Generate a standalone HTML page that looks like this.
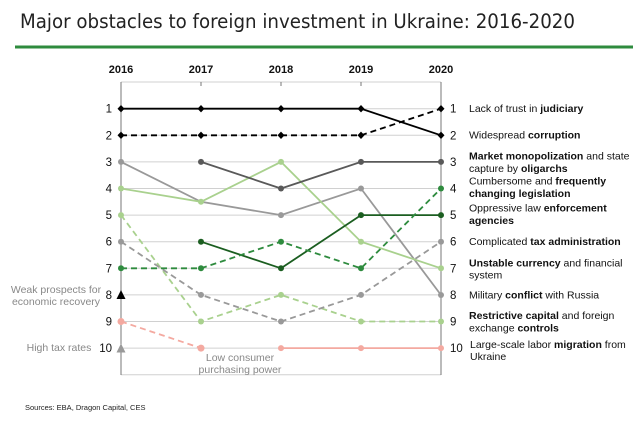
<!DOCTYPE html>
<html><head><meta charset="utf-8"><style>
body{margin:0;background:#fff;}
svg text{font-family:"Liberation Sans",sans-serif;}
</style></head><body>
<svg width="643" height="422" viewBox="0 0 643 422" xmlns="http://www.w3.org/2000/svg">
<text x="20" y="28" font-size="19.5" fill="#222" style="font-family:'DejaVu Sans',sans-serif" textLength="555" lengthAdjust="spacingAndGlyphs">Major obstacles to foreign investment in Ukraine: 2016-2020</text>
<rect x="15" y="45.5" width="618" height="3" fill="#2e8b3e"/>
<g font-size="11" font-weight="bold" fill="#111" text-anchor="middle" style="font-family:'DejaVu Sans',sans-serif">
<text x="121" y="73">2016</text><text x="201" y="73">2017</text><text x="281" y="73">2018</text><text x="361" y="73">2019</text><text x="441" y="73">2020</text>
</g>
<g stroke="#d0d0d0" stroke-width="1">
<line x1="121" x2="441" y1="82" y2="82"/>
<line x1="121" x2="441" y1="108.7" y2="108.7"/><line x1="121" x2="441" y1="135.3" y2="135.3"/><line x1="121" x2="441" y1="161.9" y2="161.9"/><line x1="121" x2="441" y1="188.5" y2="188.5"/><line x1="121" x2="441" y1="215.1" y2="215.1"/><line x1="121" x2="441" y1="241.7" y2="241.7"/><line x1="121" x2="441" y1="268.3" y2="268.3"/><line x1="121" x2="441" y1="294.9" y2="294.9"/><line x1="121" x2="441" y1="321.5" y2="321.5"/><line x1="121" x2="441" y1="348.1" y2="348.1"/><line x1="121" x2="441" y1="374.7" y2="374.7"/>
</g>
<g stroke="#777" stroke-width="1"><line x1="121" x2="121" y1="82" y2="375"/><line x1="441" x2="441" y1="82" y2="375"/>
<line x1="201" x2="201" y1="82" y2="86"/><line x1="281" x2="281" y1="82" y2="86"/><line x1="361" x2="361" y1="82" y2="86"/></g>
<g font-size="11.5" fill="#111" text-anchor="end">
<text x="112" y="112.7">1</text><text x="112" y="139.3">2</text><text x="112" y="165.9">3</text><text x="112" y="192.5">4</text><text x="112" y="219.1">5</text><text x="112" y="245.7">6</text><text x="112" y="272.3">7</text><text x="112" y="298.9">8</text><text x="112" y="325.5">9</text><text x="112" y="352.1">10</text>
</g>
<g font-size="11.5" fill="#111">
<text x="450" y="112.7">1</text><text x="450" y="139.3">2</text><text x="450" y="165.9">3</text><text x="450" y="192.5">4</text><text x="450" y="219.1">5</text><text x="450" y="245.7">6</text><text x="450" y="272.3">7</text><text x="450" y="298.9">8</text><text x="450" y="325.5">9</text><text x="450" y="352.1">10</text>
</g>
<g font-size="10.5" fill="#111">
<text x="469" y="112">Lack of trust in <tspan font-weight="bold">judiciary</tspan></text>
<text x="469" y="138.5">Widespread <tspan font-weight="bold">corruption</tspan></text>
<text x="469" y="159.5"><tspan font-weight="bold">Market monopolization</tspan> and state</text>
<text x="469" y="172">capture by <tspan font-weight="bold">oligarchs</tspan></text>
<text x="469" y="184.5">Cumbersome and <tspan font-weight="bold">frequently</tspan></text>
<text x="469" y="197"><tspan font-weight="bold">changing legislation</tspan></text>
<text x="469" y="211.5">Oppressive law <tspan font-weight="bold">enforcement</tspan></text>
<text x="469" y="224"><tspan font-weight="bold">agencies</tspan></text>
<text x="469" y="245">Complicated <tspan font-weight="bold">tax administration</tspan></text>
<text x="469" y="266.5"><tspan font-weight="bold">Unstable currency</tspan> and financial</text>
<text x="469" y="278.5">system</text>
<text x="469" y="298.5">Military <tspan font-weight="bold">conflict</tspan> with Russia</text>
<text x="469" y="319"><tspan font-weight="bold">Restrictive capital</tspan> and foreign</text>
<text x="469" y="331.5">exchange <tspan font-weight="bold">controls</tspan></text>
<text x="470" y="348">Large-scale labor <tspan font-weight="bold">migration</tspan> from</text>
<text x="470" y="360">Ukraine</text>
</g>
<g font-size="10.5" fill="#888" text-anchor="middle">
<text x="56" y="293">Weak prospects for</text>
<text x="56" y="305">economic recovery</text>
<text x="59" y="351">High tax rates</text>
<text x="240" y="361">Low consumer</text>
<text x="240" y="373">purchasing power</text>
</g>
<text x="25" y="410" font-size="7.5" fill="#222">Sources: EBA, Dragon Capital, CES</text>
<g fill="none" stroke-width="1.8">
<polyline stroke="#999" points="121,161.9 201,201.8 281,215.1 361,188.5 441,295"/>
<polyline stroke="#a9d18e" points="121,188.5 201,201.8 281,161.9 361,241.7 441,268.3"/>
<polyline stroke="#a9d18e" stroke-dasharray="6,4" points="121,215.1 201,321.5 281,294.9 361,321.5 441,321.5"/>
<polyline stroke="#999" stroke-dasharray="6,4" points="121,241.7 201,294.9 281,321.5 361,294.9 441,241.7"/>
<polyline stroke="#595959" points="201,161.9 281,188.5 361,161.9 441,161.9"/>
<polyline stroke="#1b5e20" points="201,241.7 281,268.3 361,215.1 441,215.1"/>
<polyline stroke="#2e8b3e" stroke-dasharray="6,4" points="121,268.3 201,268.3 281,241.7 361,268.3 441,188.5"/>
<polyline stroke="#f4a9a0" stroke-dasharray="6,4" points="121,321.5 201,348.1"/>
<polyline stroke="#f4a9a0" points="281,348.1 361,348.1 441,348.1"/>
<polyline stroke="#000" points="121,108.7 201,108.7 281,108.7 361,108.7 441,135.3"/>
<polyline stroke="#000" stroke-dasharray="6,4" points="121,135.3 201,135.3 281,135.3 361,135.3 441,108.7"/>
</g>
<g>
<g fill="#000"><path d="M121,105l3.5,3.7l-3.5,3.7l-3.5,-3.7z"/><path d="M201,105l3.5,3.7l-3.5,3.7l-3.5,-3.7z"/><path d="M281,105l3.5,3.7l-3.5,3.7l-3.5,-3.7z"/><path d="M361,105l3.5,3.7l-3.5,3.7l-3.5,-3.7z"/><path d="M441,131.6l3.5,3.7l-3.5,3.7l-3.5,-3.7z"/>
<path d="M121,131.6l3.5,3.7l-3.5,3.7l-3.5,-3.7z"/><path d="M201,131.6l3.5,3.7l-3.5,3.7l-3.5,-3.7z"/><path d="M281,131.6l3.5,3.7l-3.5,3.7l-3.5,-3.7z"/><path d="M361,131.6l3.5,3.7l-3.5,3.7l-3.5,-3.7z"/><path d="M441,105l3.5,3.7l-3.5,3.7l-3.5,-3.7z"/>
<path d="M121,290l4.5,9h-9z"/></g>
<path d="M121,343.5l4.5,9h-9z" fill="#999"/>
<g fill="#595959"><circle cx="201" cy="161.9" r="3"/><circle cx="281" cy="188.5" r="3"/><circle cx="361" cy="161.9" r="3"/><circle cx="441" cy="161.9" r="3"/></g>
<g fill="#999"><circle cx="121" cy="161.9" r="3"/><circle cx="281" cy="215.1" r="3"/><circle cx="361" cy="188.5" r="3"/><circle cx="441" cy="295" r="3"/><circle cx="121" cy="241.7" r="3"/><circle cx="201" cy="294.9" r="3"/><circle cx="281" cy="321.5" r="3"/><circle cx="361" cy="294.9" r="3"/><circle cx="441" cy="241.7" r="3"/></g>
<g fill="#a9d18e"><circle cx="121" cy="188.5" r="3"/><circle cx="201" cy="201.8" r="3"/><circle cx="281" cy="161.9" r="3"/><circle cx="361" cy="241.7" r="3"/><circle cx="441" cy="268.3" r="3"/><circle cx="121" cy="215.1" r="3"/><circle cx="201" cy="321.5" r="3"/><circle cx="281" cy="294.9" r="3"/><circle cx="361" cy="321.5" r="3"/><circle cx="441" cy="321.5" r="3"/></g>
<g fill="#1b5e20"><circle cx="201" cy="241.7" r="3"/><circle cx="281" cy="268.3" r="3"/><circle cx="361" cy="215.1" r="3"/><circle cx="441" cy="215.1" r="3"/></g>
<g fill="#2e8b3e"><circle cx="121" cy="268.3" r="3"/><circle cx="201" cy="268.3" r="3"/><circle cx="281" cy="241.7" r="3"/><circle cx="361" cy="268.3" r="3"/><circle cx="441" cy="188.5" r="3"/></g>
<g fill="#f4a9a0"><circle cx="121" cy="321.5" r="3.5"/><circle cx="201" cy="348.1" r="3.5"/><circle cx="281" cy="348.1" r="3"/><circle cx="361" cy="348.1" r="3"/><circle cx="441" cy="348.1" r="3"/></g>
</g>
</svg>
</body></html>
